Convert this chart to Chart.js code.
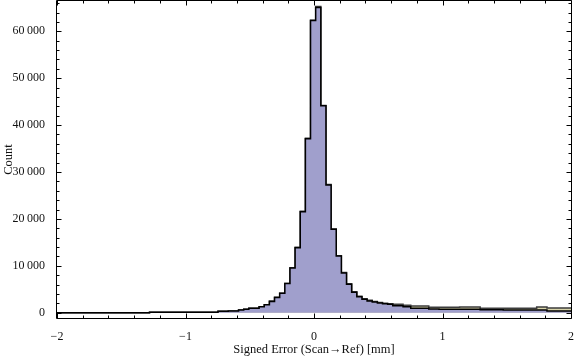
<!DOCTYPE html>
<html>
<head>
<meta charset="utf-8">
<script src="https://cdn.jsdelivr.net/npm/chart.js@4/dist/chart.umd.min.js"></script>
<style>
html,body{margin:0;padding:0;background:#fff;}
canvas{display:block;}
</style>
</head>
<body>
<canvas id="c" width="576" height="359"></canvas>
<script>
// ---- data ----
const binEdges = [-2.0, -1.28, -0.747, -0.667, -0.587, -0.547, -0.507, -0.427, -0.387, -0.347,
  -0.307, -0.267, -0.227, -0.187, -0.147, -0.107, -0.067, -0.027, 0.013, 0.053,
  0.093, 0.133, 0.173, 0.213, 0.253, 0.293, 0.333, 0.373, 0.413, 0.453,
  0.493, 0.533, 0.573, 0.613, 0.693, 0.753, 0.893, 0.973, 1.133, 1.293,
  1.473, 1.733, 1.813, 2.0];
const countsA = [0, 100, 300, 360, 575, 720, 940, 1280, 1700, 2400,
  3240, 4130, 6220, 9550, 13860, 21540, 37100, 62300, 65100, 44100,
  27250, 17780, 12090, 8450, 6080, 4350, 3410, 2880, 2520, 2280,
  2070, 1920, 1790, 1490, 1280, 940, 790, 720, 720, 640,
  575, 575, 360];
const countsB = [0, 100, 300, 360, 575, 720, 940, 1280, 1700, 2500,
  3300, 4130, 6250, 9600, 13950, 21650, 37200, 62350, 65300, 44200,
  27350, 17850, 12150, 8550, 6180, 4480, 3530, 3000, 2640, 2400,
  2190, 2040, 1910, 1790, 1580, 1430, 1150, 1150, 1220, 940,
  940, 1220, 1010];
const xMajorTicks = [-2, -1, 0, 1, 2];
const yMajorTicks = [0, 10000, 20000, 30000, 40000, 50000, 60000];
const xTitle = 'Signed Error (Scan\u2192Ref) [mm]';
const yTitle = 'Count';

// ---- build step outlines from the bins ----
function stepPoints(edges, counts) {
  const pts = [];
  for (let i = 0; i < counts.length; i++) {
    pts.push({x: edges[i], y: counts[i]});
    pts.push({x: edges[i + 1], y: counts[i]});
  }
  return pts;
}

const FAMILY = "'Liberation Serif', 'DejaVu Serif', serif";
const FONT = {family: FAMILY, size: 12};
const TFONT = {family: FAMILY, size: 12.5};

const frameTicks = {
  id: 'frameTicks',
  afterDraw(chart) {
    const {ctx, chartArea: a, scales: {x, y}} = chart;
    const L = Math.round(a.left) - 0.5, R = Math.round(a.right) + 0.5;
    const T = Math.round(a.top) - 0.5, B = Math.round(a.bottom) + 0.5;
    ctx.save();
    ctx.strokeStyle = '#000';
    ctx.lineWidth = 1;
    ctx.beginPath();
    ctx.rect(L, T, R - L, B - T);
    ctx.stroke();
    ctx.beginPath();
    // x ticks (bottom & top), minor every 0.2
    for (let k = -10; k <= 10; k++) {
      const v = k / 5;
      const px = Math.round(x.getPixelForValue(v)) + 0.5;
      const len = (k % 5 === 0) ? 5 : 3;
      ctx.moveTo(px, B); ctx.lineTo(px, B - len);
      ctx.moveTo(px, T); ctx.lineTo(px, T + len);
    }
    // y ticks (left & right), minor every 2000
    for (let k = 0; k <= 33; k++) {
      const v = k * 2000;
      if (v > y.max) break;
      const py = Math.round(y.getPixelForValue(v)) + 0.5;
      const len = (k % 5 === 0) ? 5 : 3;
      ctx.moveTo(L, py); ctx.lineTo(L + len, py);
      ctx.moveTo(R, py); ctx.lineTo(R - len, py);
    }
    ctx.stroke();
    ctx.restore();
  }
};

new Chart(document.getElementById('c'), {
  type: 'line',
  data: {
    datasets: [
      {
        data: stepPoints(binEdges, countsA),
        borderColor: '#000',
        borderWidth: 1.5,
        backgroundColor: 'rgb(160,159,204)',
        fill: 'origin',
        pointRadius: 0,
        tension: 0
      },
      {
        data: stepPoints(binEdges, countsB),
        borderColor: '#3c3c3c',
        borderWidth: 1.5,
        backgroundColor: 'rgb(216,212,170)',
        fill: 'origin',
        pointRadius: 0,
        tension: 0
      }
    ]
  },
  options: {
    responsive: false,
    animation: false,
    devicePixelRatio: 1,
    layout: {padding: {top: 1, right: 5, left: 0, bottom: 0}},
    plugins: {legend: {display: false}, tooltip: {enabled: false}},
    scales: {
      x: {
        type: 'linear',
        min: -2, max: 2,
        grid: {display: false},
        border: {display: false},
        afterFit(s) { s.height = 41; s.paddingLeft = 0; s.paddingRight = 0; },
        afterBuildTicks(s) { s.ticks = xMajorTicks.map(v => ({value: v})); },
        ticks: {
          padding: 4,
          color: '#111',
          font: FONT,
          maxRotation: 0,
          autoSkip: false,
          callback: v => v < 0 ? '\u2212' + Math.abs(v) : String(v)
        },
        title: {display: true, text: xTitle, color: '#111', font: TFONT, padding: {top: 0, bottom: 2}}
      },
      y: {
        type: 'linear',
        min: -1130, max: 66460,
        grid: {display: false},
        border: {display: false},
        afterFit(s) { s.width = 57; s.paddingTop = 0; s.paddingBottom = 0; },
        afterBuildTicks(s) { s.ticks = yMajorTicks.map(v => ({value: v})); },
        ticks: {
          padding: 4,
          color: '#111',
          font: FONT,
          autoSkip: false,
          callback: v => String(v).replace(/\B(?=(\d{3})+(?!\d))/g, '\u2009')
        },
        title: {display: true, text: yTitle, color: '#111', font: TFONT, padding: {top: 1, bottom: 0}}
      }
    }
  },
  plugins: [frameTicks]
});
</script>
</body>
</html>
